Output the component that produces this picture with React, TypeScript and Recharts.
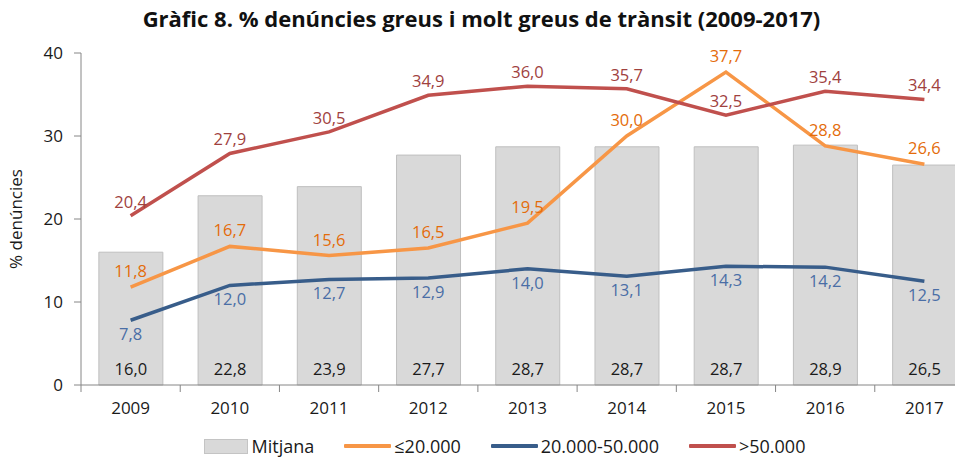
import { ComposedChart, Bar, Line, XAxis, YAxis, Legend, LabelList } from "recharts";

const years = ["2009", "2010", "2011", "2012", "2013", "2014", "2015", "2016", "2017"];
const mitjana = [16.0, 22.8, 23.9, 27.7, 28.7, 28.7, 28.7, 28.9, 26.5];
const fins20k = [11.8, 16.7, 15.6, 16.5, 19.5, 30.0, 37.7, 28.8, 26.6];
const de20a50k = [7.8, 12.0, 12.7, 12.9, 14.0, 13.1, 14.3, 14.2, 12.5];
const mes50k = [20.4, 27.9, 30.5, 34.9, 36.0, 35.7, 32.5, 35.4, 34.4];
const yTicks = [0, 10, 20, 30, 40];

const data = years.map((year, i) => ({
  year,
  mitjana: mitjana[i],
  fins20k: fins20k[i],
  de20a50k: de20a50k[i],
  mes50k: mes50k[i],
}));

const FONT = "'Open Sans', 'Noto Sans', sans-serif";
const AXIS = "#868686";
const X_TICK_SIZE = 6;
const X_TICK_MARGIN = 11;
const fmt = (v: any) => Number(v).toFixed(1).replace(".", ",");

const legendItems = [
  { name: "Mitjana", kind: "bar", color: "#d9d9d9" },
  { name: "≤20.000", kind: "line", color: "#f79646" },
  { name: "20.000-50.000", kind: "line", color: "#385d8a" },
  { name: ">50.000", kind: "line", color: "#c0504d" },
];

// year label plus a tick mark on the left edge of its band (Excel style)
function YearTick(props: any) {
  const { x, y, payload } = props;
  const axisY = y - X_TICK_SIZE - X_TICK_MARGIN;
  const left = x - (payload.offset || 0);
  return (
    <g>
      <line x1={left} x2={left} y1={axisY} y2={axisY + 7} stroke={AXIS} />
      <text x={x} y={y} dy="0.71em" textAnchor="middle" fill="#1a1a1a" fontSize={17} fontFamily={FONT}>
        {payload.value}
      </text>
    </g>
  );
}

function ChartLegend() {
  return (
    <div style={{ display: "flex", justifyContent: "center", gap: 30, fontFamily: FONT, fontSize: 18, lineHeight: "20px", color: "#1a1a1a" }}>
      {legendItems.map((it) => (
        <div key={it.name} style={{ display: "flex", alignItems: "center" }}>
          {it.kind === "bar" ? (
            <span style={{ width: 42, height: 13, background: it.color, border: "1px solid #c4c4c4", marginRight: 4 }} />
          ) : (
            <span style={{ width: 47, height: 4.5, background: it.color, marginRight: 3, borderRadius: 1 }} />
          )}
          <span>{it.name}</span>
        </div>
      ))}
    </div>
  );
}

export default function App() {
  return (
    <div style={{ margin: -8, width: 963, height: 466, overflow: "hidden", position: "relative", background: "#fff" }}>
      <div
        style={{
          position: "absolute",
          top: 3,
          left: 0,
          width: 963,
          textAlign: "center",
          fontFamily: FONT,
          fontWeight: 700,
          fontSize: 22,
          color: "#111",
        }}
      >
        Gràfic 8. % denúncies greus i molt greus de trànsit (2009-2017)
      </div>
      <ComposedChart width={975} height={466} data={data} margin={{ top: 53, right: 1, bottom: 0, left: 0 }} barCategoryGap="18%">
        <XAxis
          dataKey="year"
          height={81}
          axisLine={{ stroke: AXIS }}
          tickLine={false}
          tickSize={X_TICK_SIZE}
          tickMargin={X_TICK_MARGIN}
          tick={<YearTick />}
        />
        <YAxis
          width={81}
          domain={[0, 40]}
          ticks={yTicks}
          axisLine={{ stroke: AXIS }}
          tickLine={{ stroke: AXIS }}
          tickSize={7}
          tickMargin={11}
          tick={{ fill: "#1a1a1a", fontSize: 17, fontFamily: FONT }}
          label={{ value: "% denúncies", angle: -90, position: "insideLeft", offset: 16, style: { fill: "#1a1a1a", fontSize: 17, fontFamily: FONT, textAnchor: "middle" } }}
        />
        <Legend
          verticalAlign="middle"
          align="center"
          wrapperStyle={{ top: 436, left: 23, width: 963 }}
          content={() => <ChartLegend />}
        />
        <Bar dataKey="mitjana" name="Mitjana" fill="#d9d9d9" stroke="#bfbfbf" strokeWidth={1} isAnimationActive={false}>
          <LabelList dataKey="mitjana" position="insideBottom" offset={10} formatter={fmt} style={{ fill: "#1a1a1a", fontSize: 16.5, fontFamily: FONT }} />
        </Bar>
        <Line dataKey="fins20k" name="≤20.000" stroke="#f79646" strokeWidth={3.5} dot={false} isAnimationActive={false}>
          <LabelList dataKey="fins20k" position="top" offset={10} formatter={fmt} style={{ fill: "#e46c0a", fontSize: 16.5, fontFamily: FONT }} />
        </Line>
        <Line dataKey="de20a50k" name="20.000-50.000" stroke="#385d8a" strokeWidth={3.5} dot={false} isAnimationActive={false}>
          <LabelList dataKey="de20a50k" position="bottom" offset={8} formatter={fmt} style={{ fill: "#4a6ea6", fontSize: 16.5, fontFamily: FONT }} />
        </Line>
        <Line dataKey="mes50k" name=">50.000" stroke="#c0504d" strokeWidth={3.5} dot={false} isAnimationActive={false}>
          <LabelList dataKey="mes50k" position="top" offset={8} formatter={fmt} style={{ fill: "#a0413e", fontSize: 16.5, fontFamily: FONT }} />
        </Line>
      </ComposedChart>
    </div>
  );
}
